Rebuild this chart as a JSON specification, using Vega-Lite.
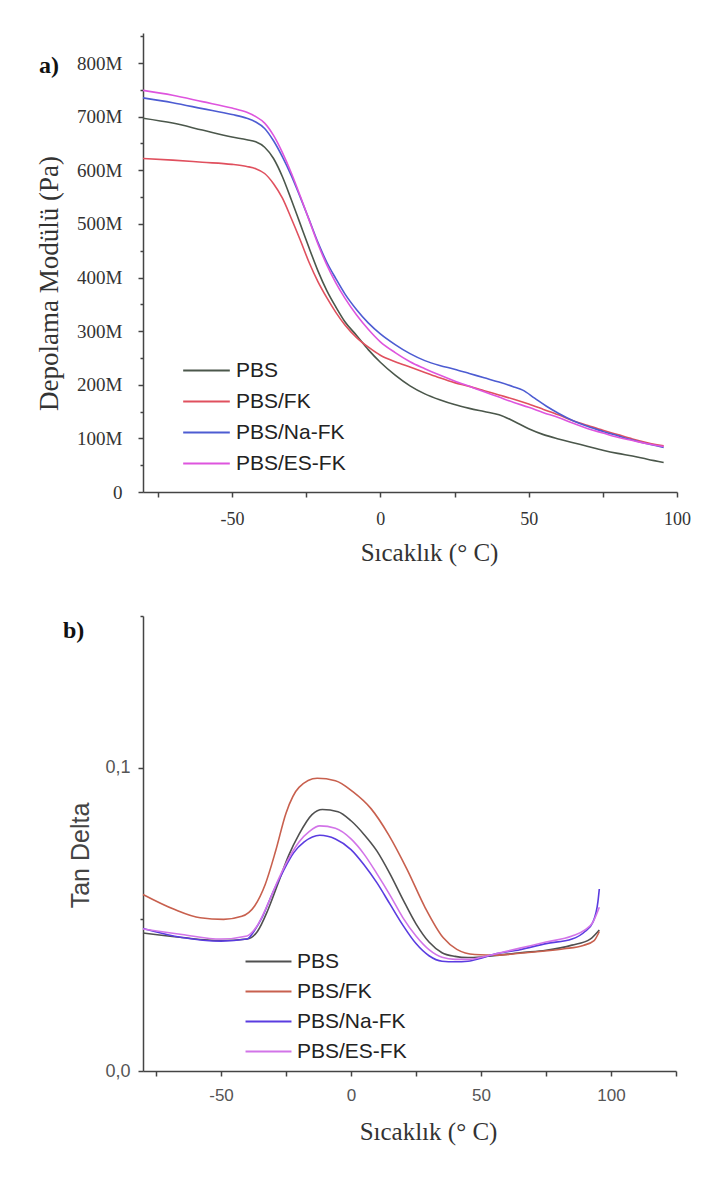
{
  "$schema": "https://vega.github.io/schema/vega-lite/v6.json",
  "background": "white",
  "padding": {"left": 35, "top": 33, "right": 5, "bottom": 5},
  "spacing": 50,
  "config": {
    "view": {"stroke": null},
    "axis": {"grid": false, "labelFlush": false, "domainColor": "#444", "tickColor": "#444", "domainWidth": 1.5, "tickWidth": 1.5, "labelColor": "#333", "titleColor": "#333", "titleFontWeight": "normal"},
    "legend": {"padding": 0, "offset": 0}
  },
  "resolve": {"scale": {"color": "independent"}},
  "datasets": {
    "dma_a": [
      {"T": -80, "G": 697000000, "s": "PBS"}, {"T": -70, "G": 688000000, "s": "PBS"}, {"T": -60, "G": 675000000, "s": "PBS"}, {"T": -50, "G": 662000000, "s": "PBS"}, {"T": -45, "G": 657000000, "s": "PBS"}, {"T": -42, "G": 653000000, "s": "PBS"}, {"T": -39, "G": 643000000, "s": "PBS"}, {"T": -36, "G": 622000000, "s": "PBS"}, {"T": -33, "G": 588000000, "s": "PBS"}, {"T": -30, "G": 545000000, "s": "PBS"}, {"T": -27, "G": 500000000, "s": "PBS"}, {"T": -24, "G": 455000000, "s": "PBS"}, {"T": -21, "G": 412000000, "s": "PBS"}, {"T": -18, "G": 375000000, "s": "PBS"}, {"T": -15, "G": 345000000, "s": "PBS"}, {"T": -12, "G": 318000000, "s": "PBS"}, {"T": -8, "G": 292000000, "s": "PBS"}, {"T": -4, "G": 265000000, "s": "PBS"}, {"T": 0, "G": 242000000, "s": "PBS"}, {"T": 5, "G": 218000000, "s": "PBS"}, {"T": 10, "G": 198000000, "s": "PBS"}, {"T": 15, "G": 183000000, "s": "PBS"}, {"T": 20, "G": 172000000, "s": "PBS"}, {"T": 25, "G": 163000000, "s": "PBS"}, {"T": 30, "G": 156000000, "s": "PBS"}, {"T": 35, "G": 150000000, "s": "PBS"}, {"T": 40, "G": 144000000, "s": "PBS"}, {"T": 45, "G": 132000000, "s": "PBS"}, {"T": 50, "G": 118000000, "s": "PBS"}, {"T": 55, "G": 107000000, "s": "PBS"}, {"T": 60, "G": 99000000, "s": "PBS"}, {"T": 65, "G": 92000000, "s": "PBS"}, {"T": 70, "G": 85000000, "s": "PBS"}, {"T": 75, "G": 78000000, "s": "PBS"}, {"T": 80, "G": 72000000, "s": "PBS"}, {"T": 85, "G": 67000000, "s": "PBS"}, {"T": 90, "G": 61000000, "s": "PBS"}, {"T": 95.5, "G": 55000000, "s": "PBS"},
      {"T": -80, "G": 622000000, "s": "PBS/FK"}, {"T": -70, "G": 619000000, "s": "PBS/FK"}, {"T": -60, "G": 615000000, "s": "PBS/FK"}, {"T": -50, "G": 611000000, "s": "PBS/FK"}, {"T": -45, "G": 607000000, "s": "PBS/FK"}, {"T": -42, "G": 603000000, "s": "PBS/FK"}, {"T": -39, "G": 594000000, "s": "PBS/FK"}, {"T": -36, "G": 575000000, "s": "PBS/FK"}, {"T": -33, "G": 548000000, "s": "PBS/FK"}, {"T": -30, "G": 510000000, "s": "PBS/FK"}, {"T": -27, "G": 470000000, "s": "PBS/FK"}, {"T": -24, "G": 428000000, "s": "PBS/FK"}, {"T": -21, "G": 392000000, "s": "PBS/FK"}, {"T": -18, "G": 362000000, "s": "PBS/FK"}, {"T": -15, "G": 335000000, "s": "PBS/FK"}, {"T": -12, "G": 312000000, "s": "PBS/FK"}, {"T": -8, "G": 288000000, "s": "PBS/FK"}, {"T": -4, "G": 270000000, "s": "PBS/FK"}, {"T": 0, "G": 255000000, "s": "PBS/FK"}, {"T": 5, "G": 243000000, "s": "PBS/FK"}, {"T": 10, "G": 233000000, "s": "PBS/FK"}, {"T": 15, "G": 223000000, "s": "PBS/FK"}, {"T": 20, "G": 213000000, "s": "PBS/FK"}, {"T": 25, "G": 204000000, "s": "PBS/FK"}, {"T": 30, "G": 197000000, "s": "PBS/FK"}, {"T": 35, "G": 189000000, "s": "PBS/FK"}, {"T": 40, "G": 181000000, "s": "PBS/FK"}, {"T": 45, "G": 173000000, "s": "PBS/FK"}, {"T": 50, "G": 164000000, "s": "PBS/FK"}, {"T": 55, "G": 154000000, "s": "PBS/FK"}, {"T": 60, "G": 144000000, "s": "PBS/FK"}, {"T": 65, "G": 133000000, "s": "PBS/FK"}, {"T": 70, "G": 124000000, "s": "PBS/FK"}, {"T": 75, "G": 115000000, "s": "PBS/FK"}, {"T": 80, "G": 107000000, "s": "PBS/FK"}, {"T": 85, "G": 99000000, "s": "PBS/FK"}, {"T": 90, "G": 92000000, "s": "PBS/FK"}, {"T": 95.5, "G": 86000000, "s": "PBS/FK"},
      {"T": -80, "G": 735000000, "s": "PBS/Na-FK"}, {"T": -70, "G": 726000000, "s": "PBS/Na-FK"}, {"T": -60, "G": 715000000, "s": "PBS/Na-FK"}, {"T": -50, "G": 704000000, "s": "PBS/Na-FK"}, {"T": -45, "G": 697000000, "s": "PBS/Na-FK"}, {"T": -42, "G": 690000000, "s": "PBS/Na-FK"}, {"T": -39, "G": 678000000, "s": "PBS/Na-FK"}, {"T": -36, "G": 655000000, "s": "PBS/Na-FK"}, {"T": -33, "G": 625000000, "s": "PBS/Na-FK"}, {"T": -30, "G": 590000000, "s": "PBS/Na-FK"}, {"T": -27, "G": 550000000, "s": "PBS/Na-FK"}, {"T": -24, "G": 508000000, "s": "PBS/Na-FK"}, {"T": -21, "G": 465000000, "s": "PBS/Na-FK"}, {"T": -18, "G": 428000000, "s": "PBS/Na-FK"}, {"T": -15, "G": 398000000, "s": "PBS/Na-FK"}, {"T": -12, "G": 370000000, "s": "PBS/Na-FK"}, {"T": -8, "G": 340000000, "s": "PBS/Na-FK"}, {"T": -4, "G": 315000000, "s": "PBS/Na-FK"}, {"T": 0, "G": 295000000, "s": "PBS/Na-FK"}, {"T": 5, "G": 275000000, "s": "PBS/Na-FK"}, {"T": 10, "G": 258000000, "s": "PBS/Na-FK"}, {"T": 15, "G": 245000000, "s": "PBS/Na-FK"}, {"T": 20, "G": 236000000, "s": "PBS/Na-FK"}, {"T": 25, "G": 229000000, "s": "PBS/Na-FK"}, {"T": 30, "G": 221000000, "s": "PBS/Na-FK"}, {"T": 35, "G": 213000000, "s": "PBS/Na-FK"}, {"T": 40, "G": 205000000, "s": "PBS/Na-FK"}, {"T": 45, "G": 196000000, "s": "PBS/Na-FK"}, {"T": 48, "G": 190000000, "s": "PBS/Na-FK"}, {"T": 52, "G": 175000000, "s": "PBS/Na-FK"}, {"T": 56, "G": 160000000, "s": "PBS/Na-FK"}, {"T": 60, "G": 147000000, "s": "PBS/Na-FK"}, {"T": 65, "G": 133000000, "s": "PBS/Na-FK"}, {"T": 70, "G": 122000000, "s": "PBS/Na-FK"}, {"T": 75, "G": 113000000, "s": "PBS/Na-FK"}, {"T": 80, "G": 105000000, "s": "PBS/Na-FK"}, {"T": 85, "G": 97000000, "s": "PBS/Na-FK"}, {"T": 90, "G": 90000000, "s": "PBS/Na-FK"}, {"T": 95.5, "G": 83000000, "s": "PBS/Na-FK"},
      {"T": -80, "G": 749000000, "s": "PBS/ES-FK"}, {"T": -70, "G": 740000000, "s": "PBS/ES-FK"}, {"T": -60, "G": 728000000, "s": "PBS/ES-FK"}, {"T": -50, "G": 716000000, "s": "PBS/ES-FK"}, {"T": -45, "G": 708000000, "s": "PBS/ES-FK"}, {"T": -42, "G": 700000000, "s": "PBS/ES-FK"}, {"T": -39, "G": 688000000, "s": "PBS/ES-FK"}, {"T": -36, "G": 665000000, "s": "PBS/ES-FK"}, {"T": -33, "G": 633000000, "s": "PBS/ES-FK"}, {"T": -30, "G": 595000000, "s": "PBS/ES-FK"}, {"T": -27, "G": 552000000, "s": "PBS/ES-FK"}, {"T": -24, "G": 507000000, "s": "PBS/ES-FK"}, {"T": -21, "G": 462000000, "s": "PBS/ES-FK"}, {"T": -18, "G": 423000000, "s": "PBS/ES-FK"}, {"T": -15, "G": 390000000, "s": "PBS/ES-FK"}, {"T": -12, "G": 362000000, "s": "PBS/ES-FK"}, {"T": -8, "G": 330000000, "s": "PBS/ES-FK"}, {"T": -4, "G": 303000000, "s": "PBS/ES-FK"}, {"T": 0, "G": 280000000, "s": "PBS/ES-FK"}, {"T": 5, "G": 260000000, "s": "PBS/ES-FK"}, {"T": 10, "G": 243000000, "s": "PBS/ES-FK"}, {"T": 15, "G": 230000000, "s": "PBS/ES-FK"}, {"T": 20, "G": 218000000, "s": "PBS/ES-FK"}, {"T": 25, "G": 207000000, "s": "PBS/ES-FK"}, {"T": 30, "G": 197000000, "s": "PBS/ES-FK"}, {"T": 35, "G": 187000000, "s": "PBS/ES-FK"}, {"T": 40, "G": 177000000, "s": "PBS/ES-FK"}, {"T": 45, "G": 167000000, "s": "PBS/ES-FK"}, {"T": 50, "G": 158000000, "s": "PBS/ES-FK"}, {"T": 55, "G": 148000000, "s": "PBS/ES-FK"}, {"T": 60, "G": 139000000, "s": "PBS/ES-FK"}, {"T": 65, "G": 128000000, "s": "PBS/ES-FK"}, {"T": 70, "G": 118000000, "s": "PBS/ES-FK"}, {"T": 75, "G": 110000000, "s": "PBS/ES-FK"}, {"T": 80, "G": 102000000, "s": "PBS/ES-FK"}, {"T": 85, "G": 96000000, "s": "PBS/ES-FK"}, {"T": 90, "G": 90000000, "s": "PBS/ES-FK"}, {"T": 95.5, "G": 85000000, "s": "PBS/ES-FK"}
    ],
    "dma_b": [
      {"T": -80, "tan": 0.0455, "s": "PBS"}, {"T": -65, "tan": 0.0440, "s": "PBS"}, {"T": -50, "tan": 0.0430, "s": "PBS"}, {"T": -40, "tan": 0.0435, "s": "PBS"}, {"T": -36, "tan": 0.0460, "s": "PBS"}, {"T": -32, "tan": 0.0530, "s": "PBS"}, {"T": -28, "tan": 0.0620, "s": "PBS"}, {"T": -24, "tan": 0.0710, "s": "PBS"}, {"T": -20, "tan": 0.0780, "s": "PBS"}, {"T": -15, "tan": 0.0845, "s": "PBS"}, {"T": -11, "tan": 0.0862, "s": "PBS"}, {"T": -5, "tan": 0.0855, "s": "PBS"}, {"T": 0, "tan": 0.0825, "s": "PBS"}, {"T": 5, "tan": 0.0780, "s": "PBS"}, {"T": 10, "tan": 0.0725, "s": "PBS"}, {"T": 15, "tan": 0.0650, "s": "PBS"}, {"T": 20, "tan": 0.0565, "s": "PBS"}, {"T": 25, "tan": 0.0485, "s": "PBS"}, {"T": 30, "tan": 0.0425, "s": "PBS"}, {"T": 35, "tan": 0.0390, "s": "PBS"}, {"T": 40, "tan": 0.0378, "s": "PBS"}, {"T": 45, "tan": 0.0374, "s": "PBS"}, {"T": 50, "tan": 0.0376, "s": "PBS"}, {"T": 55, "tan": 0.0380, "s": "PBS"}, {"T": 65, "tan": 0.0390, "s": "PBS"}, {"T": 75, "tan": 0.0398, "s": "PBS"}, {"T": 85, "tan": 0.0415, "s": "PBS"}, {"T": 92, "tan": 0.0435, "s": "PBS"}, {"T": 95.5, "tan": 0.0465, "s": "PBS"},
      {"T": -80, "tan": 0.0582, "s": "PBS/FK"}, {"T": -68, "tan": 0.0533, "s": "PBS/FK"}, {"T": -58, "tan": 0.0505, "s": "PBS/FK"}, {"T": -49, "tan": 0.0500, "s": "PBS/FK"}, {"T": -42, "tan": 0.0510, "s": "PBS/FK"}, {"T": -37, "tan": 0.0545, "s": "PBS/FK"}, {"T": -33, "tan": 0.0615, "s": "PBS/FK"}, {"T": -29, "tan": 0.0725, "s": "PBS/FK"}, {"T": -25, "tan": 0.0850, "s": "PBS/FK"}, {"T": -20, "tan": 0.0935, "s": "PBS/FK"}, {"T": -13, "tan": 0.0965, "s": "PBS/FK"}, {"T": -6, "tan": 0.0957, "s": "PBS/FK"}, {"T": 0.7, "tan": 0.0921, "s": "PBS/FK"}, {"T": 7.7, "tan": 0.0865, "s": "PBS/FK"}, {"T": 14.6, "tan": 0.0777, "s": "PBS/FK"}, {"T": 21.6, "tan": 0.0664, "s": "PBS/FK"}, {"T": 28.5, "tan": 0.0539, "s": "PBS/FK"}, {"T": 35.5, "tan": 0.0439, "s": "PBS/FK"}, {"T": 40.7, "tan": 0.0401, "s": "PBS/FK"}, {"T": 47.6, "tan": 0.0384, "s": "PBS/FK"}, {"T": 56.3, "tan": 0.0382, "s": "PBS/FK"}, {"T": 65, "tan": 0.0388, "s": "PBS/FK"}, {"T": 73.6, "tan": 0.0395, "s": "PBS/FK"}, {"T": 82, "tan": 0.0403, "s": "PBS/FK"}, {"T": 89.3, "tan": 0.0414, "s": "PBS/FK"}, {"T": 93.5, "tan": 0.0430, "s": "PBS/FK"}, {"T": 95.5, "tan": 0.0460, "s": "PBS/FK"},
      {"T": -80, "tan": 0.0470, "s": "PBS/Na-FK"}, {"T": -65, "tan": 0.0440, "s": "PBS/Na-FK"}, {"T": -50, "tan": 0.0428, "s": "PBS/Na-FK"}, {"T": -40, "tan": 0.0435, "s": "PBS/Na-FK"}, {"T": -37, "tan": 0.0465, "s": "PBS/Na-FK"}, {"T": -34, "tan": 0.0510, "s": "PBS/Na-FK"}, {"T": -30, "tan": 0.0590, "s": "PBS/Na-FK"}, {"T": -26, "tan": 0.0660, "s": "PBS/Na-FK"}, {"T": -22, "tan": 0.0720, "s": "PBS/Na-FK"}, {"T": -18, "tan": 0.0755, "s": "PBS/Na-FK"}, {"T": -12, "tan": 0.0777, "s": "PBS/Na-FK"}, {"T": -6, "tan": 0.0765, "s": "PBS/Na-FK"}, {"T": 0, "tan": 0.0730, "s": "PBS/Na-FK"}, {"T": 5, "tan": 0.0680, "s": "PBS/Na-FK"}, {"T": 10, "tan": 0.0620, "s": "PBS/Na-FK"}, {"T": 15, "tan": 0.0550, "s": "PBS/Na-FK"}, {"T": 20, "tan": 0.0480, "s": "PBS/Na-FK"}, {"T": 25, "tan": 0.0420, "s": "PBS/Na-FK"}, {"T": 30, "tan": 0.0380, "s": "PBS/Na-FK"}, {"T": 35, "tan": 0.0362, "s": "PBS/Na-FK"}, {"T": 40, "tan": 0.0360, "s": "PBS/Na-FK"}, {"T": 45, "tan": 0.0362, "s": "PBS/Na-FK"}, {"T": 50, "tan": 0.0372, "s": "PBS/Na-FK"}, {"T": 55, "tan": 0.0385, "s": "PBS/Na-FK"}, {"T": 65, "tan": 0.0400, "s": "PBS/Na-FK"}, {"T": 75, "tan": 0.0420, "s": "PBS/Na-FK"}, {"T": 85, "tan": 0.0435, "s": "PBS/Na-FK"}, {"T": 90, "tan": 0.0460, "s": "PBS/Na-FK"}, {"T": 93, "tan": 0.0490, "s": "PBS/Na-FK"}, {"T": 95, "tan": 0.0560, "s": "PBS/Na-FK"}, {"T": 95.5, "tan": 0.0600, "s": "PBS/Na-FK"},
      {"T": -80, "tan": 0.0468, "s": "PBS/ES-FK"}, {"T": -65, "tan": 0.0450, "s": "PBS/ES-FK"}, {"T": -50, "tan": 0.0435, "s": "PBS/ES-FK"}, {"T": -40, "tan": 0.0445, "s": "PBS/ES-FK"}, {"T": -36, "tan": 0.0480, "s": "PBS/ES-FK"}, {"T": -32, "tan": 0.0550, "s": "PBS/ES-FK"}, {"T": -28, "tan": 0.0630, "s": "PBS/ES-FK"}, {"T": -24, "tan": 0.0700, "s": "PBS/ES-FK"}, {"T": -20, "tan": 0.0755, "s": "PBS/ES-FK"}, {"T": -16, "tan": 0.0790, "s": "PBS/ES-FK"}, {"T": -12, "tan": 0.0808, "s": "PBS/ES-FK"}, {"T": -6, "tan": 0.0800, "s": "PBS/ES-FK"}, {"T": 0, "tan": 0.0765, "s": "PBS/ES-FK"}, {"T": 5, "tan": 0.0715, "s": "PBS/ES-FK"}, {"T": 10, "tan": 0.0650, "s": "PBS/ES-FK"}, {"T": 15, "tan": 0.0580, "s": "PBS/ES-FK"}, {"T": 20, "tan": 0.0505, "s": "PBS/ES-FK"}, {"T": 25, "tan": 0.0445, "s": "PBS/ES-FK"}, {"T": 30, "tan": 0.0400, "s": "PBS/ES-FK"}, {"T": 35, "tan": 0.0375, "s": "PBS/ES-FK"}, {"T": 40, "tan": 0.0368, "s": "PBS/ES-FK"}, {"T": 45, "tan": 0.0368, "s": "PBS/ES-FK"}, {"T": 50, "tan": 0.0375, "s": "PBS/ES-FK"}, {"T": 55, "tan": 0.0385, "s": "PBS/ES-FK"}, {"T": 65, "tan": 0.0405, "s": "PBS/ES-FK"}, {"T": 75, "tan": 0.0425, "s": "PBS/ES-FK"}, {"T": 85, "tan": 0.0445, "s": "PBS/ES-FK"}, {"T": 90, "tan": 0.0465, "s": "PBS/ES-FK"}, {"T": 93, "tan": 0.0490, "s": "PBS/ES-FK"}, {"T": 95.5, "tan": 0.0540, "s": "PBS/ES-FK"}
    ]
  },
  "vconcat": [
    {
      "width": 534,
      "height": 459,
      "title": {"text": "a)", "anchor": "start", "frame": "group", "orient": "top", "offset": 0, "baseline": "middle", "dx": -104, "dy": 57, "font": "Liberation Serif", "fontSize": 24, "fontWeight": "bold", "color": "#111"},
      "data": {"name": "dma_a"},
      "mark": {"type": "line", "strokeWidth": 1.6, "interpolate": "monotone"},
      "encoding": {
        "x": {
          "field": "T", "type": "quantitative",
          "scale": {"domain": [-80, 100], "nice": false, "zero": false},
          "axis": {
            "title": "Sıcaklık (° C)",
            "values": [-75, -50, -25, 0, 25, 50, 75, 100],
            "labelExpr": "datum.value % 50 == 0 ? '' + datum.value : ''",
            "labelFont": "Liberation Serif", "labelFontSize": 18, "labelPadding": 13,
            "tickSize": 5,
            "titleFont": "Liberation Serif", "titleFontSize": 25,
            "titleX": 286, "titleY": 60, "titleBaseline": "middle", "titleAlign": "center"
          }
        },
        "y": {
          "field": "G", "type": "quantitative",
          "scale": {"domain": [0, 856000000], "nice": false},
          "axis": {
            "title": "Depolama Modülü (Pa)",
            "values": [0, 50000000, 100000000, 150000000, 200000000, 250000000, 300000000, 350000000, 400000000, 450000000, 500000000, 550000000, 600000000, 650000000, 700000000, 750000000, 800000000, 850000000],
            "labelExpr": "datum.value % 100000000 == 0 ? (datum.value == 0 ? '0' : (datum.value / 1000000) + 'M') : ''",
            "labelFont": "Liberation Serif", "labelFontSize": 19, "labelPadding": 16,
            "tickSize": {"condition": {"test": "datum.value % 100000000 == 0", "value": 5}, "value": 3},
            "titleFont": "Liberation Serif", "titleFontSize": 27,
            "titleX": -94, "titleY": 250, "titleBaseline": "middle", "titleAlign": "center"
          }
        },
        "color": {
          "field": "s", "type": "nominal",
          "scale": {"domain": ["PBS", "PBS/FK", "PBS/Na-FK", "PBS/ES-FK"], "range": ["#4b574b", "#e0505e", "#4d5cd2", "#de55de"]},
          "legend": {
            "title": null, "orient": "none", "legendX": 53, "legendY": 327,
            "symbolType": "M-4,0H4", "symbolSize": 136, "symbolStrokeWidth": 2,
            "labelFont": "Liberation Sans", "labelFontSize": 21, "labelColor": "#222", "labelOffset": 19,
            "rowPadding": 9
          }
        }
      }
    },
    {
      "width": 533,
      "height": 455,
      "title": {"text": "b)", "anchor": "start", "frame": "group", "orient": "top", "offset": 0, "baseline": "middle", "dx": -80, "dy": 40, "font": "Liberation Serif", "fontSize": 24, "fontWeight": "bold", "color": "#111"},
      "data": {"name": "dma_b"},
      "mark": {"type": "line", "strokeWidth": 1.6, "interpolate": "monotone"},
      "encoding": {
        "x": {
          "field": "T", "type": "quantitative",
          "scale": {"domain": [-80, 125], "nice": false, "zero": false},
          "axis": {
            "title": "Sıcaklık (° C)",
            "values": [-75, -50, -25, 0, 25, 50, 75, 100, 125],
            "labelExpr": "datum.value % 50 == 0 && datum.value < 110 ? '' + datum.value : ''",
            "labelFont": "Liberation Sans", "labelFontSize": 17, "labelColor": "#555", "labelPadding": 11,
            "tickSize": 5,
            "titleFont": "Liberation Serif", "titleFontSize": 25,
            "titleX": 285, "titleY": 60, "titleBaseline": "middle", "titleAlign": "center"
          }
        },
        "y": {
          "field": "tan", "type": "quantitative",
          "scale": {"domain": [0, 0.15], "nice": false},
          "axis": {
            "title": "Tan Delta",
            "values": [0, 0.05, 0.1, 0.15],
            "labelExpr": "datum.value == 0 ? '0,0' : (datum.value == 0.1 ? '0,1' : '')",
            "labelFont": "Liberation Sans", "labelFontSize": 18, "labelColor": "#555", "labelPadding": 8,
            "tickSize": {"condition": {"test": "datum.value == 0 || datum.value == 0.1", "value": 5}, "value": 3},
            "titleFont": "Liberation Sans", "titleFontSize": 25, "titleColor": "#444",
            "titleX": -63, "titleY": 239, "titleBaseline": "middle", "titleAlign": "center"
          }
        },
        "color": {
          "field": "s", "type": "nominal",
          "scale": {"domain": ["PBS", "PBS/FK", "PBS/Na-FK", "PBS/ES-FK"], "range": ["#505050", "#c8604e", "#5a3ce0", "#d274e8"]},
          "legend": {
            "title": null, "orient": "none", "legendX": 115, "legendY": 335,
            "symbolType": "M-4,0H4", "symbolSize": 132, "symbolStrokeWidth": 2,
            "labelFont": "Liberation Sans", "labelFontSize": 21, "labelColor": "#222", "labelOffset": 18,
            "rowPadding": 8
          }
        }
      }
    }
  ]
}
